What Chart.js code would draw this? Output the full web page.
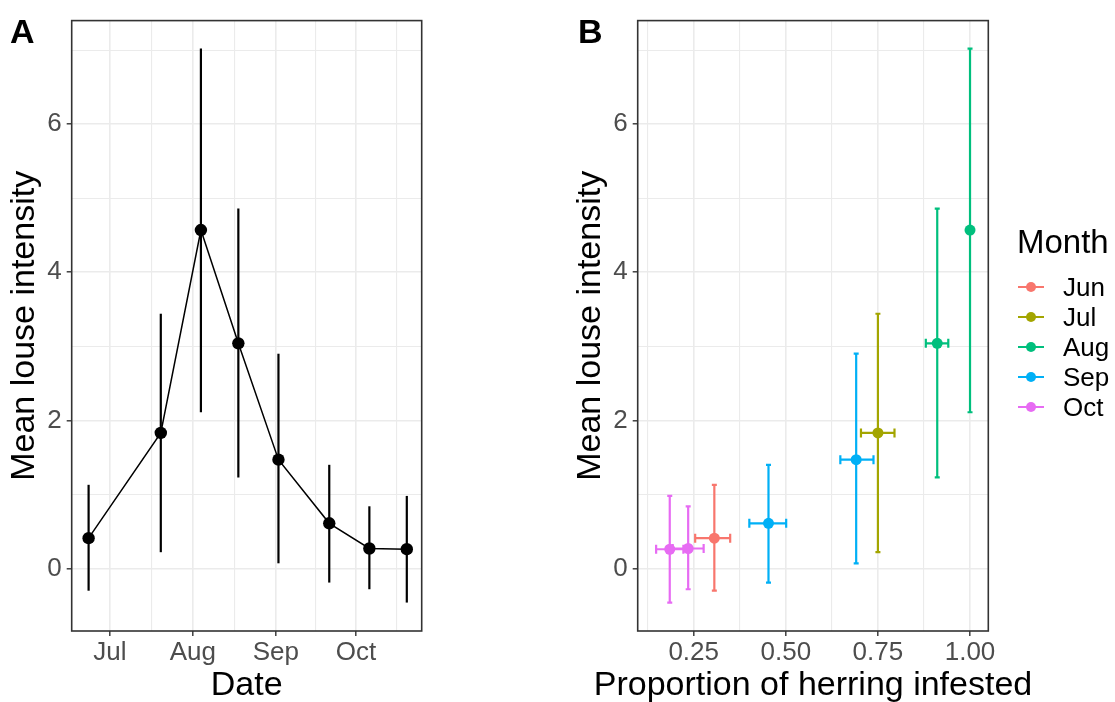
<!DOCTYPE html>
<html>
<head>
<meta charset="utf-8">
<script src="https://cdn.jsdelivr.net/npm/chart.js@4.4.1/dist/chart.umd.min.js"></script>
<style>
  html, body { margin: 0; padding: 0; background: #fff; }
  #wrapA { position: absolute; left: 0; top: 0; width: 566px; height: 702px; }
  #wrapB { position: absolute; left: 566px; top: 0; width: 549px; height: 702px; }
</style>
</head>
<body>
<div id="wrapA"><canvas id="chartA"></canvas></div>
<div id="wrapB"><canvas id="chartB"></canvas></div>
<script>
// sampling dates and mean louse intensity (with interval)
const sampleDates   = ['2019-06-23', '2019-07-20', '2019-08-04', '2019-08-18', '2019-09-02', '2019-09-21', '2019-10-06', '2019-10-20'];
const sampleMonth   = ['Jun', 'Jul', 'Aug', 'Aug', 'Sep', 'Sep', 'Oct', 'Oct'];
const meanIntensity = [0.41, 1.83, 4.57, 3.04, 1.47, 0.61, 0.27, 0.26];
const intensityLow  = [-0.30, 0.22, 2.11, 1.23, 0.07, -0.19, -0.28, -0.46];
const intensityHigh = [1.13, 3.44, 7.02, 4.86, 2.90, 1.40, 0.84, 0.98];

// proportion of herring infested (with interval)
const propInfested = [0.306, 0.750, 1.000, 0.911, 0.691, 0.453, 0.235, 0.185];
const propLow      = [0.254, 0.704, 1.000, 0.880, 0.648, 0.401, 0.193, 0.148];
const propHigh     = [0.349, 0.795, 1.000, 0.941, 0.738, 0.501, 0.277, 0.222];

const months       = ['Jun', 'Jul', 'Aug', 'Sep', 'Oct'];
const monthColours = ['#F8766D', '#A3A500', '#00BF7D', '#00B0F6', '#E76BF3'];

// axis ticks
const dateTicks      = ['2019-07-01', '2019-08-01', '2019-09-01', '2019-10-01'];
const dateTickLabels = ['Jul', 'Aug', 'Sep', 'Oct'];
const yTicks         = [0, 2, 4, 6];
const propTicks      = [0.25, 0.50, 0.75, 1.00];
const propTickLabels = ['0.25', '0.50', '0.75', '1.00'];

const FONT = "'Liberation Sans', Arial, Helvetica, sans-serif";
const GRID = '#EBEBEB';
const DARK = '#333333';

const origin = Date.parse('2019-07-01');
const dayOf = s => (Date.parse(s) - origin) / 86400000;
const dayTicks = dateTicks.map(dayOf);

// ggplot-style minor breaks: midway between majors, plus one step past each end
function minorsOf(majors) {
  const out = [];
  for (let i = 0; i < majors.length - 1; i++) out.push((majors[i] + majors[i + 1]) / 2);
  const n = majors.length;
  out.unshift(majors[0] - (majors[1] - majors[0]) / 2);
  out.push(majors[n - 1] + (majors[n - 1] - majors[n - 2]) / 2);
  return out;
}

function tickBuilder(majors) {
  return scale => {
    const all = majors.map(v => ({ value: v }))
      .concat(minorsOf(majors).map(v => ({ value: v, minor: true })))
      .filter(t => t.value >= scale.min && t.value <= scale.max);
    all.sort((a, b) => a.value - b.value);
    scale.ticks = all;
  };
}

const gridOpts = {
  color: GRID,
  lineWidth: ctx => (ctx.tick && ctx.tick.minor ? 1.1 : 1.6),
  tickLength: 5,
  tickColor: ctx => (ctx.tick && ctx.tick.minor ? 'rgba(0,0,0,0)' : DARK),
  tickWidth: 1.4
};

function yScale() {
  return {
    type: 'linear',
    min: -0.844,
    max: 7.398,
    afterBuildTicks: tickBuilder(yTicks),
    afterFit: s => { s.width = 71.7; },
    grid: gridOpts,
    border: { display: false },
    ticks: {
      autoSkip: false,
      padding: 5,
      color: '#4D4D4D',
      font: { family: FONT, size: 26 },
      callback: (v, i, ticks) => (ticks[i].minor ? '' : String(v))
    },
    title: {
      display: true,
      text: 'Mean louse intensity',
      color: '#000',
      font: { family: FONT, size: 34 },
      padding: { top: 4, bottom: 0 }
    }
  };
}

function xScale(min, max, majors, labels) {
  return {
    type: 'linear',
    min: min,
    max: max,
    afterBuildTicks: tickBuilder(majors),
    afterFit: s => { s.height = 71; },
    grid: gridOpts,
    border: { display: false },
    ticks: {
      autoSkip: false,
      maxRotation: 0,
      padding: 1,
      color: '#4D4D4D',
      font: { family: FONT, size: 26 },
      callback: (v, i, ticks) => {
        if (ticks[i].minor) return '';
        const k = majors.findIndex(m => Math.abs(m - v) < 1e-9);
        return k >= 0 ? labels[k] : '';
      }
    }
  };
}

// error bars drawn through the chart scales, under the points
const errorBars = {
  id: 'errorBars',
  beforeDatasetsDraw(chart, args, opts) {
    const { ctx, scales: { x, y } } = chart;
    ctx.save();
    ctx.lineWidth = opts.width || 2;
    ctx.lineCap = 'butt';
    chart.data.datasets.forEach(ds => {
      ctx.strokeStyle = ds.borderColor;
      ds.data.forEach(p => {
        const px = x.getPixelForValue(p.x);
        const py = y.getPixelForValue(p.y);
        const cap = opts.cap || 0;
        if (p.yMin !== undefined) {
          const y0 = y.getPixelForValue(p.yMin), y1 = y.getPixelForValue(p.yMax);
          ctx.beginPath();
          ctx.moveTo(px, y0); ctx.lineTo(px, y1);
          if (cap) {
            ctx.moveTo(px - cap, y0); ctx.lineTo(px + cap, y0);
            ctx.moveTo(px - cap, y1); ctx.lineTo(px + cap, y1);
          }
          ctx.stroke();
        }
        if (p.xMin !== undefined && p.xMax > p.xMin) {
          const x0 = x.getPixelForValue(p.xMin), x1 = x.getPixelForValue(p.xMax);
          const hcap = opts.hcap || 0;
          ctx.beginPath();
          ctx.moveTo(x0, py); ctx.lineTo(x1, py);
          if (hcap) {
            ctx.moveTo(x0, py - hcap); ctx.lineTo(x0, py + hcap);
            ctx.moveTo(x1, py - hcap); ctx.lineTo(x1, py + hcap);
          }
          ctx.stroke();
        }
      });
    });
    ctx.restore();
  }
};

// panel frame, panel tag and x-axis title (ggplot lets it run past the panel)
const panelFrame = {
  id: 'panelFrame',
  afterDraw(chart, args, opts) {
    const { ctx, chartArea: a } = chart;
    ctx.save();
    ctx.strokeStyle = DARK;
    ctx.lineWidth = 1.6;
    ctx.strokeRect(a.left, a.top, a.right - a.left, a.bottom - a.top);
    ctx.fillStyle = '#000';
    ctx.textBaseline = 'alphabetic';
    ctx.textAlign = 'left';
    ctx.font = 'bold 34px ' + FONT;
    ctx.fillText(opts.tag, opts.tagX, 43);
    ctx.textAlign = 'center';
    ctx.font = '34px ' + FONT;
    ctx.fillText(opts.xTitle, (a.left + a.right) / 2, 695);
    ctx.restore();
  }
};

// ggplot-like legend on the right of panel B
const monthLegend = {
  id: 'monthLegend',
  afterDraw(chart, args, opts) {
    const { ctx } = chart;
    const x0 = opts.x;
    ctx.save();
    ctx.fillStyle = '#000';
    ctx.textAlign = 'left';
    ctx.textBaseline = 'alphabetic';
    ctx.font = '33px ' + FONT;
    ctx.fillText(opts.title, x0, 253);
    ctx.font = '26px ' + FONT;
    chart.data.datasets.forEach((ds, i) => {
      const cy = 287 + i * 30;
      ctx.strokeStyle = ds.borderColor;
      ctx.lineWidth = 2;
      ctx.beginPath();
      ctx.moveTo(x0 + 1, cy); ctx.lineTo(x0 + 27, cy);
      ctx.stroke();
      ctx.fillStyle = ds.borderColor;
      ctx.beginPath();
      ctx.arc(x0 + 14, cy, 5, 0, Math.PI * 2);
      ctx.fill();
      ctx.fillStyle = '#000';
      ctx.fillText(ds.label, x0 + 46, cy + 9);
    });
    ctx.restore();
  }
};

Chart.defaults.font.family = FONT;

// Panel A: time series
const seriesA = sampleDates.map((d, i) => ({
  x: dayOf(d), y: meanIntensity[i], yMin: intensityLow[i], yMax: intensityHigh[i]
}));

new Chart(document.getElementById('chartA'), {
  type: 'line',
  data: {
    datasets: [{
      label: 'Mean louse intensity',
      data: seriesA,
      borderColor: '#000',
      borderWidth: 1.5,
      pointRadius: 6.2,
      pointBackgroundColor: '#000',
      pointBorderWidth: 0,
      tension: 0
    }]
  },
  options: {
    responsive: true,
    maintainAspectRatio: false,
    animation: false,
    layout: { padding: { top: 11.7, right: 566 - 421.7, bottom: 0, left: 0 } },
    scales: {
      x: xScale(-14.32, 116.57, dayTicks, dateTickLabels),
      y: yScale()
    },
    plugins: {
      legend: { display: false },
      tooltip: { enabled: false },
      errorBars: { width: 2.2, cap: 0 },
      panelFrame: { tag: 'A', tagX: 10, xTitle: 'Date' }
    }
  },
  plugins: [errorBars, panelFrame]
});

// Panel B: proportion infested vs intensity, one dataset per month
const datasetsB = months.map((m, k) => ({
  label: m,
  data: sampleMonth.map((mm, i) => mm === m ? {
    x: propInfested[i], y: meanIntensity[i],
    xMin: propLow[i], xMax: propHigh[i],
    yMin: intensityLow[i], yMax: intensityHigh[i]
  } : null).filter(Boolean),
  borderColor: monthColours[k],
  backgroundColor: monthColours[k],
  pointRadius: 5.5,
  pointBorderWidth: 0
}));

new Chart(document.getElementById('chartB'), {
  type: 'scatter',
  data: { datasets: datasetsB },
  options: {
    responsive: true,
    maintainAspectRatio: false,
    animation: false,
    layout: { padding: { top: 11.7, right: 549 - 422.3, bottom: 0, left: 0 } },
    scales: {
      x: xScale(0.098, 1.0496, propTicks, propTickLabels),
      y: yScale()
    },
    plugins: {
      legend: { display: false },
      tooltip: { enabled: false },
      errorBars: { width: 2.2, cap: 2.5, hcap: 4.5 },
      panelFrame: { tag: 'B', tagX: 12, xTitle: 'Proportion of herring infested' },
      monthLegend: { title: 'Month', x: 1017 - 566 }
    }
  },
  plugins: [errorBars, panelFrame, monthLegend]
});
</script>
</body>
</html>
